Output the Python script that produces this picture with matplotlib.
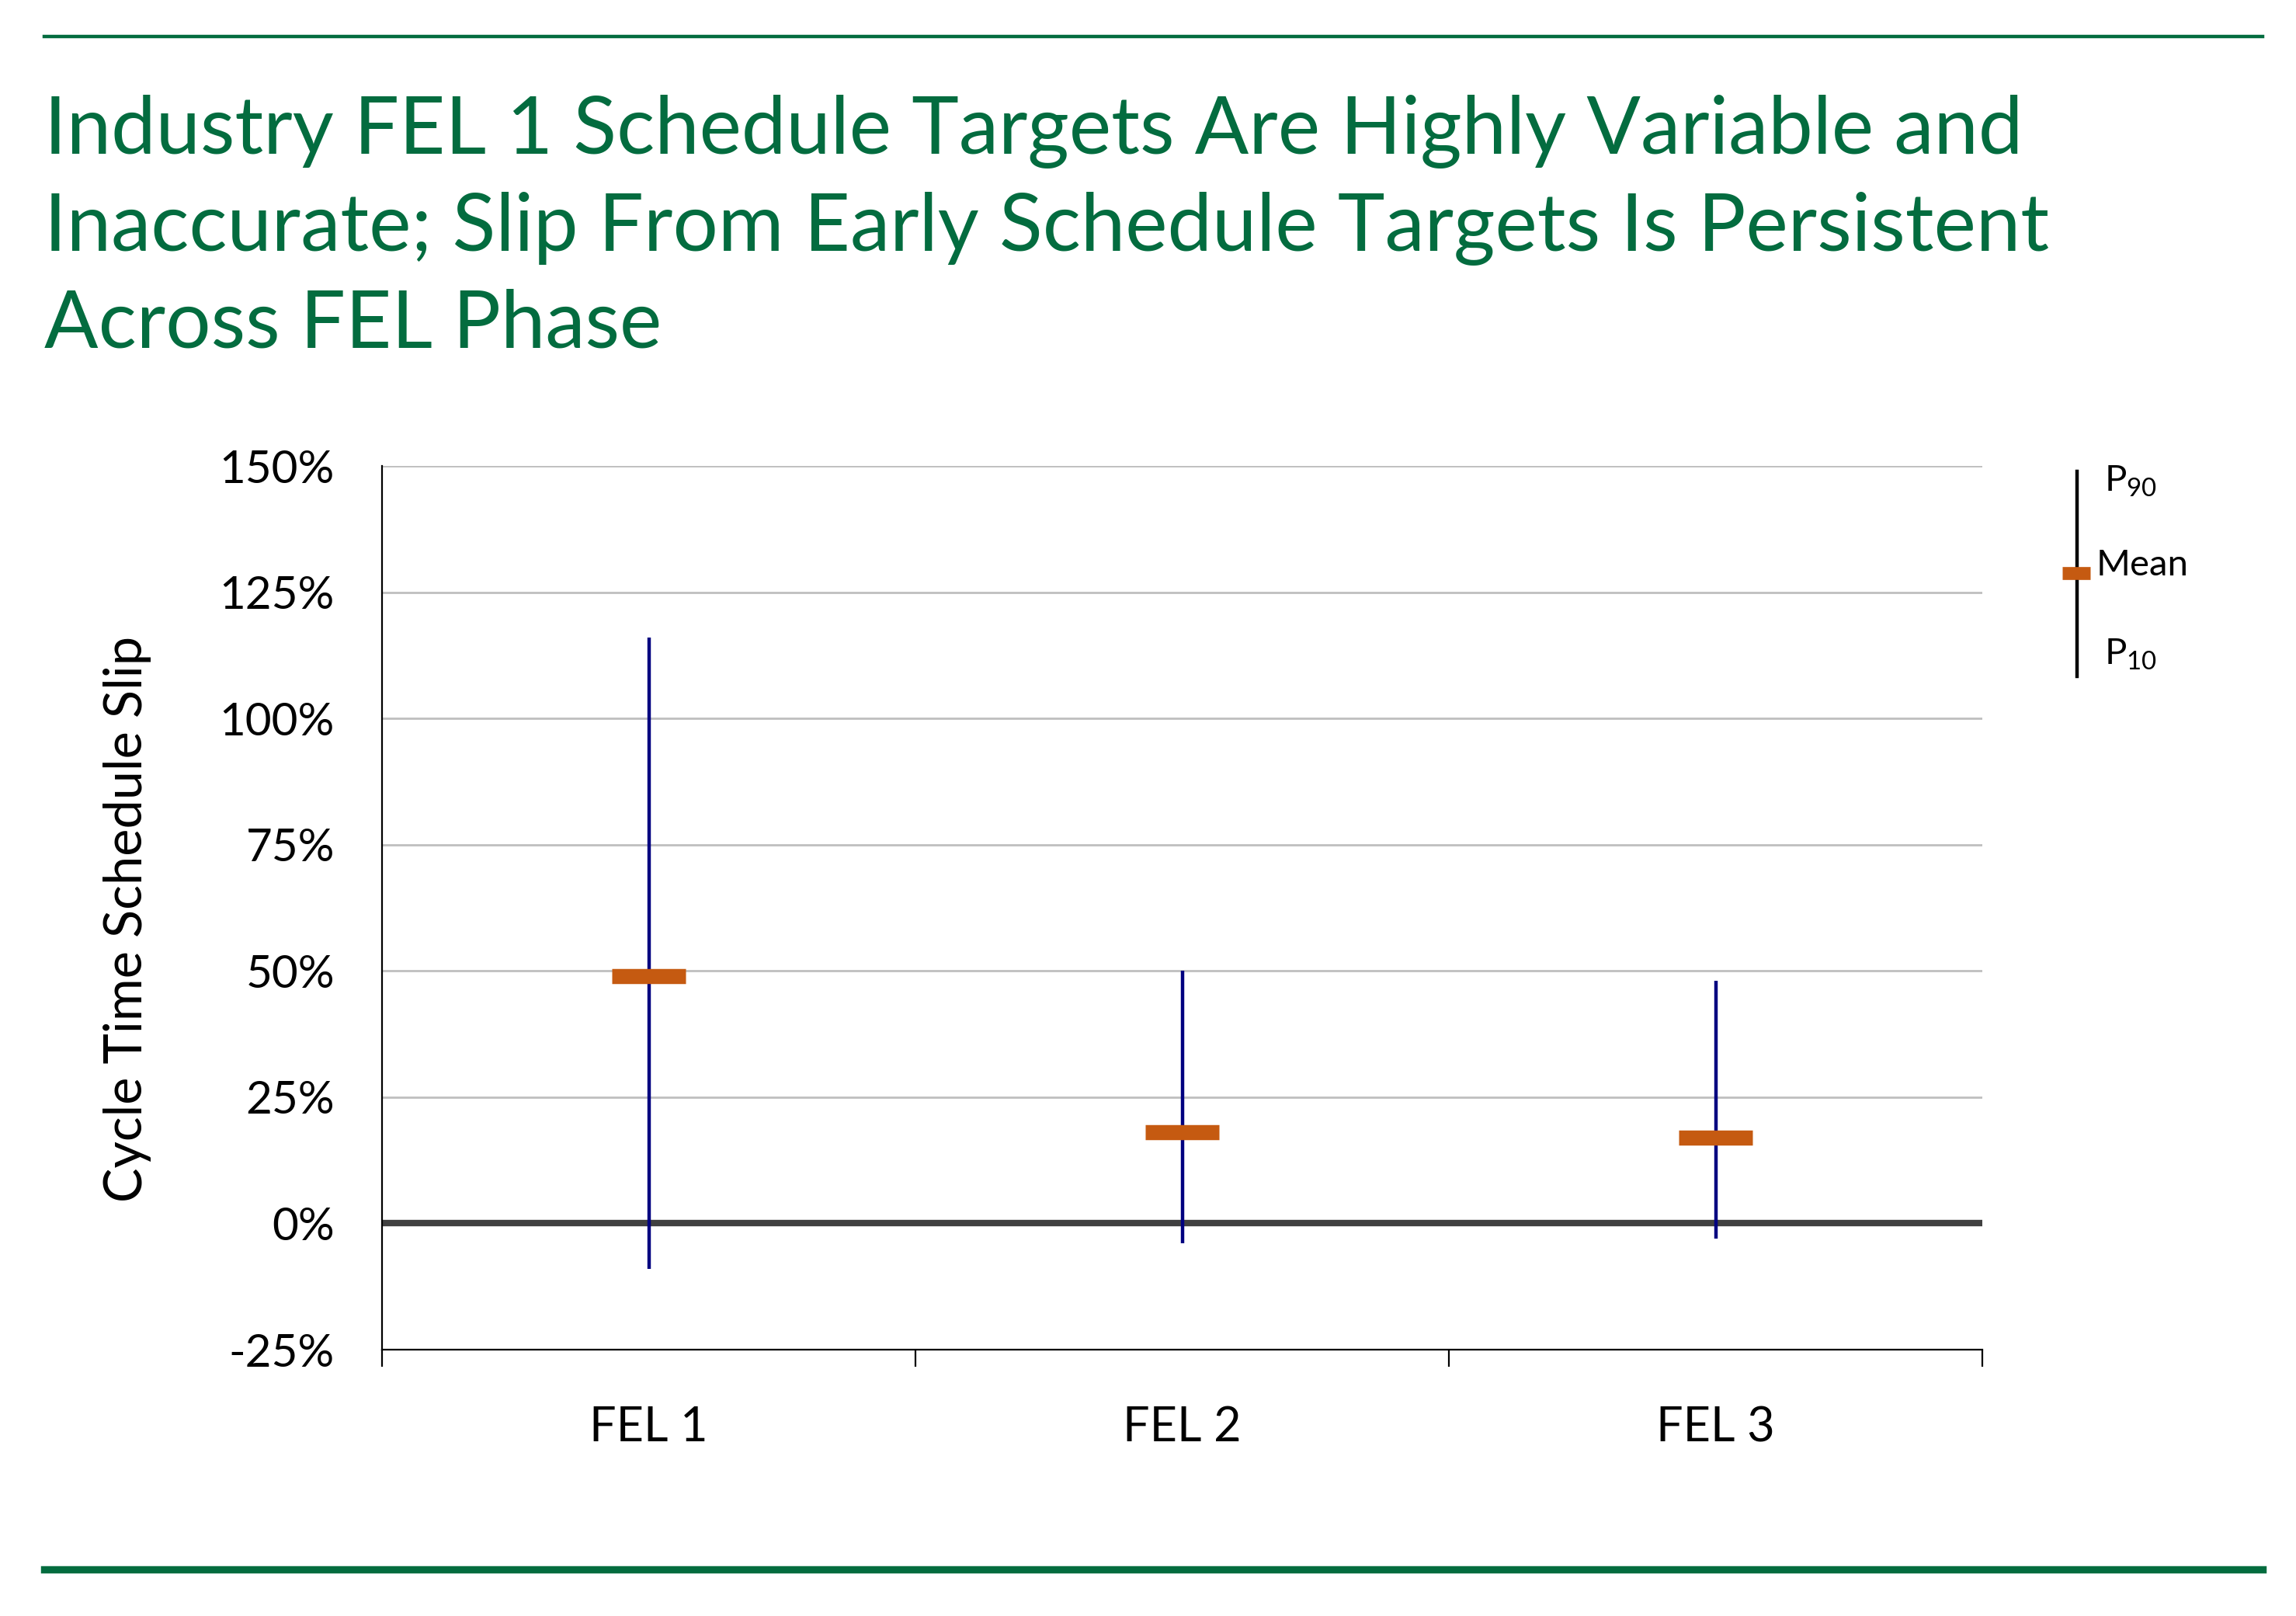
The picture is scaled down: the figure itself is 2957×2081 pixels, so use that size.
import matplotlib
matplotlib.use("Agg")
import matplotlib.pyplot as plt
from matplotlib.lines import Line2D

plt.rcParams['font.family'] = ['Lato', 'DejaVu Sans']

# data (percent)
phases = ['FEL 1', 'FEL 2', 'FEL 3']
p90 = [116, 50, 48]
mean = [49, 18, 17]
p10 = [-9, -4, -3]

yticks = [-25, 0, 25, 50, 75, 100, 125, 150]
ytick_labels = ['-25%', '0%', '25%', '50%', '75%', '100%', '125%', '150%']

title_lines = [
    'Industry FEL 1 Schedule Targets Are Highly Variable and',
    'Inaccurate; Slip From Early Schedule Targets Is Persistent',
    'Across FEL Phase',
]

green = '#036C3F'
navy = '#000080'
orange = '#C55A11'

W, H = 2957, 2081
dpi = 200
fig = plt.figure(figsize=(W / dpi, H / dpi), dpi=dpi)

# decorative rules at top and bottom
fig.add_artist(Line2D([57 / W, 2914 / W], [1 - 47 / H] * 2, color=green, lw=1.6))
fig.add_artist(Line2D([57 / W, 2914 / W], [1 - 2021 / H] * 2, color=green, lw=3.4))

# title, one line at a time
for i, line in enumerate(title_lines):
    fig.text(57 / W, 1 - (198 + i * 124.5) / H, line, color=green,
             fontsize=37, va='baseline', ha='left')

ax = fig.add_axes([492 / W, 343 / H, 2061 / W, 1138 / H])
x = range(len(phases))

ax.set_ylim(-25, 150)
ax.set_xlim(-0.5, 2.5)
ax.set_yticks(yticks)
ax.set_yticklabels(ytick_labels)
for y in yticks[2:]:
    ax.axhline(y, color='#BFBFBF', lw=1.0, zorder=1)
ax.axhline(0, color='#404040', lw=3.0, zorder=2)

ax.vlines(x, p10, p90, color=navy, lw=1.6, zorder=3)
ax.hlines(mean, [i - 0.069 for i in x], [i + 0.069 for i in x],
          color=orange, lw=7.0, zorder=4, capstyle='butt')

for s in ['top', 'right']:
    ax.spines[s].set_visible(False)
ax.spines['left'].set_linewidth(0.8)
ax.spines['bottom'].set_linewidth(0.8)

ax.set_xticks([-0.5, 0.5, 1.5, 2.5])
ax.set_xticklabels([])
ax.set_xticks(list(x), minor=True)
ax.set_xticklabels(phases, minor=True, fontsize=22)
ax.tick_params(axis='x', which='major', length=8, width=0.8, direction='out')
ax.tick_params(axis='x', which='minor', length=0, pad=26)
ax.tick_params(axis='y', length=0, pad=22, labelsize=21)

fig.text(164 / W, 1 - 1183 / H, 'Cycle Time Schedule Slip', rotation=90,
         fontsize=24, ha='center', va='center')

# hand-made legend in the top right corner
fig.add_artist(Line2D([2675 / W] * 2, [1 - 607 / H, 1 - 871 / H], color='black', lw=1.6))
fig.add_artist(Line2D([2656 / W, 2692 / W], [1 - 738 / H] * 2, color=orange, lw=6.0,
                      solid_capstyle='butt'))
fig.text(2710 / W, 1 - 620 / H, r'P$_{\mathregular{90}}$', fontsize=17, va='center')
fig.text(2700 / W, 1 - 728 / H, 'Mean', fontsize=17, va='center')
fig.text(2710 / W, 1 - 843 / H, r'P$_{\mathregular{10}}$', fontsize=17, va='center')

fig.savefig('out.png', dpi=dpi)
